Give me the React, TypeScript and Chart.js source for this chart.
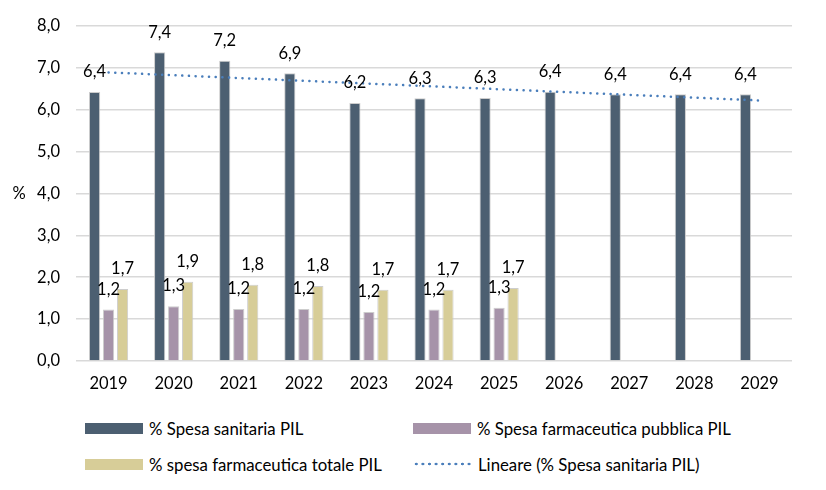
import { useEffect, useRef } from 'react';
import Chart from 'chart.js/auto';

const years = ['2019', '2020', '2021', '2022', '2023', '2024', '2025', '2026', '2027', '2028', '2029'];
const spesaSanitaria = [6.42, 7.37, 7.17, 6.87, 6.16, 6.27, 6.28, 6.43, 6.37, 6.37, 6.37];
const farmaPubblica = [1.23, 1.31, 1.24, 1.24, 1.17, 1.23, 1.27, null, null, null, null];
const farmaTotale = [1.72, 1.89, 1.82, 1.79, 1.7, 1.7, 1.74, null, null, null, null];
// trend line read at its two ends (Excel linear trendline)
const trendSanitaria = [6.89, null, null, null, null, null, null, null, null, null, 6.22];

const FONT = 'Lato, "Open Sans", sans-serif';
const DARK = '#4c5f71';
const PURPLE = '#a693a9';
const KHAKI = '#d7cd98';
const TREND = '#4a7ebb';

function fmt(v: number) {
  return v.toFixed(1).replace('.', ',');
}

const barLabels = {
  id: 'barLabels',
  afterDatasetsDraw(chart: any) {
    const ctx = chart.ctx;
    ctx.save();
    ctx.font = `16.5px ${FONT}`;
    ctx.fillStyle = '#000';
    ctx.textAlign = 'center';
    ctx.textBaseline = 'middle';
    chart.data.datasets.forEach((ds: any, i: number) => {
      if (ds.type === 'line') return;
      const meta = chart.getDatasetMeta(i);
      meta.data.forEach((el: any, j: number) => {
        const v = ds.data[j];
        if (v == null) return;
        ctx.fillText(fmt(v), el.x, el.y - 20);
      });
    });
    // unit label on the y axis
    const y = chart.scales.y;
    ctx.fillText('%', 19, (y.top + y.bottom) / 2);
    ctx.restore();
  },
};

function LegendItem(props: { left: number; top: number; label: string; color?: string; dotted?: boolean }) {
  return (
    <div
      style={{
        position: 'absolute',
        left: props.left,
        top: props.top - 11,
        height: 22,
        display: 'flex',
        alignItems: 'center',
        whiteSpace: 'nowrap',
        fontFamily: FONT,
        fontSize: 16.8,
        color: '#000',
      }}
    >
      {props.dotted ? (
        <span
          style={{
            display: 'inline-block',
            width: 59,
            height: 4,
            marginRight: 6,
            backgroundImage: `radial-gradient(circle, ${TREND} 1.2px, transparent 1.6px)`,
            backgroundSize: '6.6px 4px',
          }}
        />
      ) : (
        <span style={{ display: 'inline-block', width: 58, height: 11, marginRight: 6, background: props.color }} />
      )}
      {props.label}
    </div>
  );
}

export default function App() {
  const canvasRef = useRef<HTMLCanvasElement | null>(null);

  useEffect(() => {
    document.body.style.margin = '0';
    const canvas = canvasRef.current;
    if (!canvas) return;

    const barCommon = {
      categoryPercentage: 0.645,
      barPercentage: 0.8,
      borderColor: 'rgba(200,200,200,0.9)',
      borderWidth: 1,
      borderSkipped: 'bottom' as const,
      order: 1,
    };

    const chart = new Chart(canvas, {
      type: 'bar',
      data: {
        labels: years,
        datasets: [
          { label: '% Spesa sanitaria PIL', data: spesaSanitaria, backgroundColor: DARK, ...barCommon },
          { label: '% Spesa farmaceutica pubblica PIL', data: farmaPubblica, backgroundColor: PURPLE, ...barCommon },
          { label: '% spesa farmaceutica totale PIL', data: farmaTotale, backgroundColor: KHAKI, ...barCommon },
          {
            type: 'line',
            label: 'Lineare (% Spesa sanitaria PIL)',
            data: trendSanitaria,
            borderColor: TREND,
            borderWidth: 2.5,
            borderDash: [0.1, 6.6],
            borderCapStyle: 'round',
            pointRadius: 0,
            spanGaps: true,
            fill: false,
            order: 0,
          } as any,
        ],
      },
      options: {
        animation: false,
        responsive: true,
        maintainAspectRatio: false,
        layout: { padding: { top: 22, right: 34, left: 0, bottom: 0 } },
        plugins: {
          legend: { display: false },
          tooltip: { enabled: false },
        },
        scales: {
          x: {
            grid: { display: false, drawTicks: false },
            border: { display: false },
            ticks: { color: '#000', font: { family: FONT, size: 16.5 }, padding: 13, maxRotation: 0 },
            afterFit: (scale: any) => {
              scale.height = 34;
            },
          },
          y: {
            min: 0,
            max: 8,
            grid: { color: '#d9d9d9', lineWidth: 1.5, drawTicks: false },
            border: { display: false },
            ticks: {
              stepSize: 1,
              padding: 16,
              color: '#000',
              font: { family: FONT, size: 16.5 },
              callback: (value: any) => fmt(Number(value)),
            },
            afterFit: (scale: any) => {
              scale.width = 76;
            },
          },
        },
      },
      plugins: [barLabels],
    });

    return () => chart.destroy();
  }, []);

  return (
    <div style={{ position: 'fixed', left: 0, top: 0, width: 826, height: 490, background: '#fff' }}>
      <div style={{ position: 'absolute', left: 0, top: 0, width: 826, height: 395 }}>
        <canvas ref={canvasRef} />
      </div>
      <LegendItem left={85} top={428} label="% Spesa sanitaria PIL" color={DARK} />
      <LegendItem left={413} top={428} label="% Spesa farmaceutica pubblica PIL" color={PURPLE} />
      <LegendItem left={85} top={464} label="% spesa farmaceutica totale PIL" color={KHAKI} />
      <LegendItem left={413} top={464} label="Lineare (% Spesa sanitaria PIL)" dotted />
    </div>
  );
}
